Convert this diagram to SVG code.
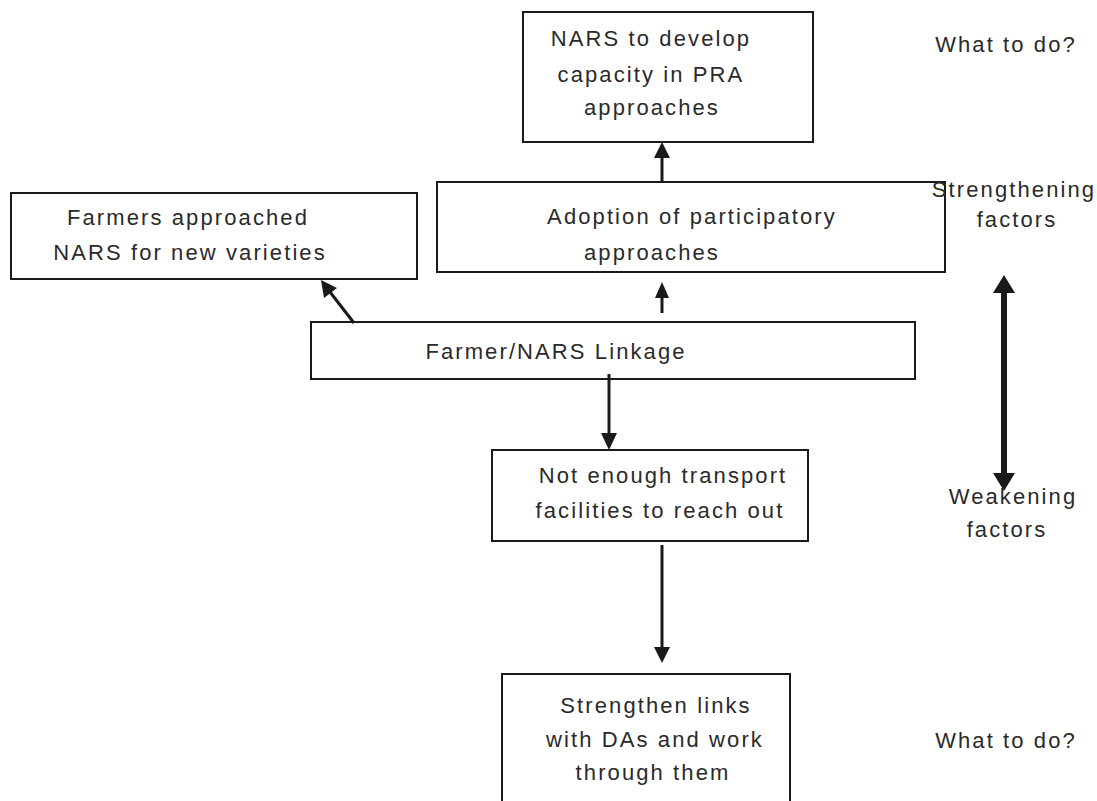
<svg xmlns="http://www.w3.org/2000/svg" width="1097" height="801" viewBox="0 0 1097 801">
  <style>
    .box { fill: #ffffff; stroke: #1a1a1a; stroke-width: 2; }
    .lbl { font-family: "Liberation Sans", Arial, sans-serif; font-size: 22px; letter-spacing: 2.1px; fill: #2a2a2a; text-anchor: middle; }
    .conn { stroke: #1a1a1a; stroke-width: 3; fill: none; }
    .head { fill: #1a1a1a; }
  </style>
  <rect width="1097" height="801" fill="#ffffff"/>

  <g id="node-capacity">
    <rect class="box" x="523" y="12" width="290" height="130"/>
    <text class="lbl" x="651" y="46">NARS to develop</text>
    <text class="lbl" x="651" y="82">capacity in PRA</text>
    <text class="lbl" x="652" y="115">approaches</text>
  </g>

  <g id="node-adoption">
    <rect class="box" x="437" y="182" width="508" height="90"/>
    <text class="lbl" x="692" y="224">Adoption of participatory</text>
    <text class="lbl" x="652" y="260">approaches</text>
  </g>

  <g id="node-farmers">
    <rect class="box" x="11" y="193" width="406" height="86"/>
    <text class="lbl" x="188" y="225">Farmers approached</text>
    <text class="lbl" x="190" y="260">NARS for new varieties</text>
  </g>

  <g id="node-linkage">
    <rect class="box" x="311" y="322" width="604" height="57"/>
    <text class="lbl" x="556" y="359">Farmer/NARS Linkage</text>
  </g>

  <g id="node-transport">
    <rect class="box" x="492" y="450" width="316" height="91"/>
    <text class="lbl" x="663" y="483">Not enough transport</text>
    <text class="lbl" x="660" y="518">facilities to reach out</text>
  </g>

  <g id="node-strengthen">
    <path class="box" d="M502 803 V674 H790 V803"/>
    <text class="lbl" x="656" y="713">Strengthen links</text>
    <text class="lbl" x="655" y="747">with DAs and work</text>
    <text class="lbl" x="653" y="780">through them</text>
  </g>

  <g id="side-labels">
    <text class="lbl" x="1006" y="52">What to do?</text>
    <text class="lbl" x="1014" y="197">Strengthening</text>
    <text class="lbl" x="1017" y="227">factors</text>
    <text class="lbl" x="1013" y="504">Weakening</text>
    <text class="lbl" x="1007" y="537">factors</text>
    <text class="lbl" x="1006" y="748">What to do?</text>
  </g>

  <g id="connectors">
    <!-- linkage to adoption -->
    <line class="conn" x1="662" y1="313" x2="662" y2="296"/>
    <polygon class="head" points="662,282 655,298 669,298"/>
    <!-- adoption to capacity -->
    <line class="conn" x1="662" y1="182" x2="662" y2="157"/>
    <polygon class="head" points="662,142 654,158 670,158"/>
    <!-- linkage to farmers -->
    <line class="conn" x1="354" y1="323" x2="330" y2="292"/>
    <polygon class="head" points="321,280 324,298 337,288"/>
    <!-- linkage to transport -->
    <line class="conn" x1="609" y1="374" x2="609" y2="434"/>
    <polygon class="head" points="609,450 601,433 617,433"/>
    <!-- transport to strengthen -->
    <line class="conn" x1="662" y1="545" x2="662" y2="648"/>
    <polygon class="head" points="662,663 654,647 670,647"/>
    <!-- strengthening / weakening scale -->
    <line stroke="#1a1a1a" stroke-width="6" x1="1004" y1="290" x2="1004" y2="476"/>
    <polygon class="head" points="1004,275 993,293 1015,293"/>
    <polygon class="head" points="1004,491 993,473 1015,473"/>
  </g>
</svg>
